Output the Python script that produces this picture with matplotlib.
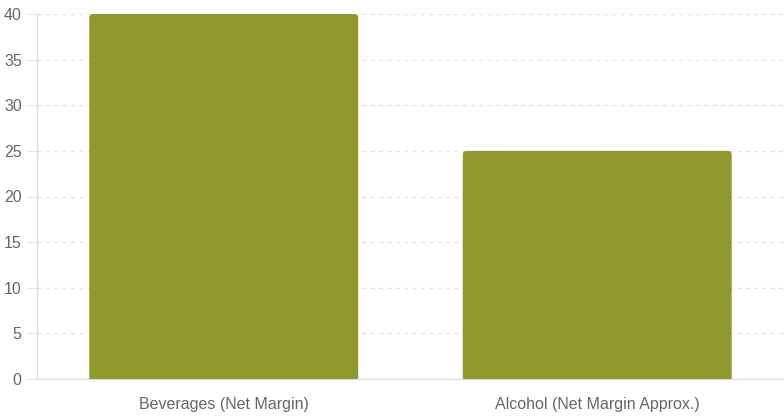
import matplotlib.pyplot as plt
from matplotlib.patches import FancyBboxPatch

categories = ['Beverages (Net Margin)', 'Alcohol (Net Margin Approx.)']
values = [40, 25]
y_ticks = [0, 5, 10, 15, 20, 25, 30, 35, 40]

bar_color = '#8f992e'
grid_color = '#e4e4e4'
text_color = '#666666'

plt.rcParams['font.family'] = ['Liberation Sans', 'DejaVu Sans']

fig = plt.figure(figsize=(7.84, 4.18), dpi=100)
ax = fig.add_axes([37 / 784, 39 / 418, 747 / 784, 365 / 418])
ax.set_xlim(-0.5, len(categories) - 0.5)
ax.set_ylim(0, 40)

# rounded top corners, bottom hidden below the axis
w = 0.72
px_x = (len(categories)) / 747
px_y = 40 / 365
aspect = px_y / px_x
for i, v in enumerate(values):
    p = FancyBboxPatch((i - w / 2, -3), w, v + 3,
                       boxstyle=f"round,pad=0,rounding_size={4 * px_x}",
                       mutation_aspect=aspect,
                       facecolor=bar_color, edgecolor='none', zorder=3)
    ax.add_patch(p)

ax.set_yticks(y_ticks)
ax.set_xticks(range(len(categories)))
ax.set_xticklabels(categories)
ax.grid(axis='y', color=grid_color, linestyle=(0, (3, 3)), linewidth=1)
ax.set_axisbelow(True)

for s in ['top', 'right']:
    ax.spines[s].set_visible(False)
for s in ['left', 'bottom']:
    ax.spines[s].set_color('#dddddd')
    ax.spines[s].set_linewidth(1)

ax.tick_params(axis='y', length=7, color=grid_color, labelcolor=text_color,
               labelsize=11.5, pad=4)
ax.tick_params(axis='x', length=0, labelcolor=text_color, labelsize=11.5, pad=13)

fig.savefig('out.png', dpi=100)
